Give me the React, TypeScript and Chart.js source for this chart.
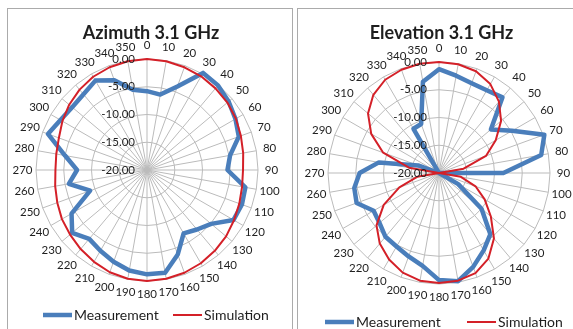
import React, { useEffect, useRef } from 'react';
import { Chart, registerables } from 'chart.js';

Chart.register(...registerables);

// ---------- data ----------
const angleLabels = [
  '0', '10', '20', '30', '40', '50', '60', '70', '80', '90', '100', '110',
  '120', '130', '140', '150', '160', '170', '180', '190', '200', '210', '220', '230',
  '240', '250', '260', '270', '280', '290', '300', '310', '320', '330', '340', '350',
];

const radialTicks = [-20, -15, -10, -5, 0];

const azimuthMeasurement = [
  -5.8, -6.2, -4.0, 0.2, -0.1, -0.8, -1.6, -2.4, -4.8, -5.5, -2.0, -1.8,
  -2.0, -4.9, -6.0, -6.8, -3.8, -1.2, -1.2, -1.6, -2.4, -3.2, -3.8, -2.4,
  -4.3, -9.1, -5.7, -7.4, -5.0, -1.0, -2.0, -2.4, -2.2, -1.4, -2.8, -5.3,
];

const azimuthSimulation = [
  0, -0.1, -0.3, -0.5, -0.8, -1.1, -1.5, -2.0, -2.4, -2.7, -2.6, -2.3,
  -1.9, -1.4, -1.0, -0.6, -0.3, -0.1, 0, -0.1, -0.4, -0.9, -1.4, -1.9,
  -2.3, -2.8, -3.2, -3.5, -3.4, -3.1, -2.4, -1.7, -1.1, -0.6, -0.3, -0.1,
];

const elevationMeasurement = [
  -1.3, -2.2, -2.8, -2.8, -2.2, -7.8, -4.8, 0.2, -1.3, -8.4, -20, -20,
  -16, -10, -5.6, -3.9, -2.0, -0.2, -0.7, -3.0, -4.0, -4.7, -5.0, -6.0,
  -6.4, -4.2, -4.5, -5.7, -9.0, -16, -20, -20, -20, -10.8, -10.6, -3.3,
];

const elevationSimulation = [
  0, -0.1, -0.5, -1.5, -3.2, -5.4, -8.2, -11, -15.5, -20, -16, -13,
  -10.5, -7.8, -4.6, -2.2, -0.8, -0.3, -0.2, -0.3, -0.9, -2.0, -3.4, -5.3,
  -8.5, -12.4, -16, -20, -14.5, -9.3, -5.9, -3.3, -1.6, -0.6, -0.2, 0,
];

const seriesNames = ['Measurement', 'Simulation'];

// ---------- styles ----------
const BLUE = '#4A7EBB';
const RED = '#D42028';
const GRID = '#BBBBBB';
const TEXT = '#1E1E1E';
const FONT = 'Lato';
const AXIS_FONT_SIZE = 11.5;

type PanelCfg = {
  title: string;
  meas: number[];
  sim: number[];
  boxLeft: number;
  boxWidth: number;
  canvasW: number;
  canvasH: number;
  pad: { left: number; top: number; right: number; bottom: number };
  titleX: number;
  titleY: number;
  legendY: number;
  legendX: number[];
};

const panels: PanelCfg[] = [
  {
    title: 'Azimuth 3.1 GHz',
    meas: azimuthMeasurement,
    sim: azimuthSimulation,
    boxLeft: 7,
    boxWidth: 286,
    canvasW: 284,
    canvasH: 320,
    pad: { left: 28, top: 50, right: 34, bottom: 48 },
    titleX: 143,
    titleY: 30,
    legendY: 306,
    legendX: [35, 165],
  },
  {
    title: 'Elevation 3.1 GHz',
    meas: elevationMeasurement,
    sim: elevationSimulation,
    boxLeft: 297,
    boxWidth: 290,
    canvasW: 288,
    canvasH: 320,
    pad: { left: 30, top: 53, right: 36, bottom: 45 },
    titleX: 143.5,
    titleY: 30,
    legendY: 313,
    legendX: [27, 169],
  },
];

function PolarPanel({ cfg }: { cfg: PanelCfg }) {
  const ref = useRef<HTMLCanvasElement | null>(null);

  useEffect(() => {
    if (!ref.current) return;

    const textPlugin = {
      id: 'excelText',
      afterDraw(chart: any) {
        const ctx: CanvasRenderingContext2D = chart.ctx;
        const s = chart.scales.r;
        ctx.save();
        ctx.fillStyle = TEXT;

        // radial tick labels
        ctx.font = `${AXIS_FONT_SIZE}px ${FONT}`;
        ctx.textAlign = 'right';
        ctx.textBaseline = 'middle';
        s.ticks.forEach((t: any) => {
          const d = s.getDistanceFromCenterForValue(t.value);
          ctx.fillText(Number(t.value).toFixed(2), s.xCenter - 12, s.yCenter - d);
        });

        // angle labels
        ctx.textAlign = 'center';
        (chart.data.labels as string[]).forEach((lab, i) => {
          const p = s.getPointPosition(i, s.drawingArea + 13.5);
          ctx.fillText(lab, p.x, p.y);
        });

        // title
        ctx.font = `bold 18px ${FONT}`;
        ctx.textBaseline = 'alphabetic';
        ctx.textAlign = 'center';
        ctx.fillText(cfg.title, cfg.titleX, cfg.titleY);

        // legend
        ctx.font = `14px ${FONT}`;
        ctx.textAlign = 'left';
        ctx.textBaseline = 'middle';
        chart.data.datasets.forEach((ds: any, i: number) => {
          const x0 = cfg.legendX[i];
          ctx.beginPath();
          ctx.strokeStyle = ds.borderColor;
          ctx.lineWidth = ds.borderWidth;
          ctx.lineCap = 'butt';
          ctx.moveTo(x0, cfg.legendY);
          ctx.lineTo(x0 + 29, cfg.legendY);
          ctx.stroke();
          ctx.fillStyle = TEXT;
          ctx.fillText(ds.label, x0 + 31, cfg.legendY);
        });
        ctx.restore();
      },
    };

    const chart = new Chart(ref.current, {
      type: 'radar',
      data: {
        labels: angleLabels,
        datasets: [
          {
            label: seriesNames[0],
            data: cfg.meas,
            borderColor: BLUE,
            backgroundColor: 'rgba(0,0,0,0)',
            borderWidth: 4.5,
            borderJoinStyle: 'round',
            pointRadius: 0,
            fill: false,
            tension: 0,
            order: 1,
          },
          {
            label: seriesNames[1],
            data: cfg.sim,
            borderColor: RED,
            backgroundColor: 'rgba(0,0,0,0)',
            borderWidth: 2,
            borderJoinStyle: 'round',
            pointRadius: 0,
            fill: false,
            tension: 0,
            order: 0,
          },
        ],
      },
      options: {
        responsive: false,
        animation: false,
        devicePixelRatio: 1,
        events: [],
        layout: { padding: cfg.pad },
        plugins: {
          legend: { display: false },
          title: { display: false },
          tooltip: { enabled: false },
        },
        scales: {
          r: {
            min: radialTicks[0],
            max: radialTicks[radialTicks.length - 1],
            ticks: { stepSize: radialTicks[1] - radialTicks[0], display: false },
            grid: { color: GRID, lineWidth: 1 },
            angleLines: { color: GRID, lineWidth: 1 },
            pointLabels: { display: false },
          },
        },
      } as any,
      plugins: [textPlugin],
    });

    return () => chart.destroy();
  }, [cfg]);

  return (
    <div
      style={{
        position: 'absolute',
        left: cfg.boxLeft,
        top: 8,
        width: cfg.boxWidth,
        height: 340,
        border: '1px solid #ABABAB',
        boxSizing: 'border-box',
        background: '#fff',
      }}
    >
      <canvas
        ref={ref}
        width={cfg.canvasW}
        height={cfg.canvasH}
        style={{ position: 'absolute', left: 0, top: 0, width: cfg.canvasW, height: cfg.canvasH }}
      />
    </div>
  );
}

export default function App() {
  return (
    <div
      style={{
        position: 'fixed',
        left: 0,
        top: 0,
        width: 573,
        height: 329,
        overflow: 'hidden',
        background: '#fff',
      }}
    >
      {panels.map((p) => (
        <PolarPanel key={p.title} cfg={p} />
      ))}
    </div>
  );
}
